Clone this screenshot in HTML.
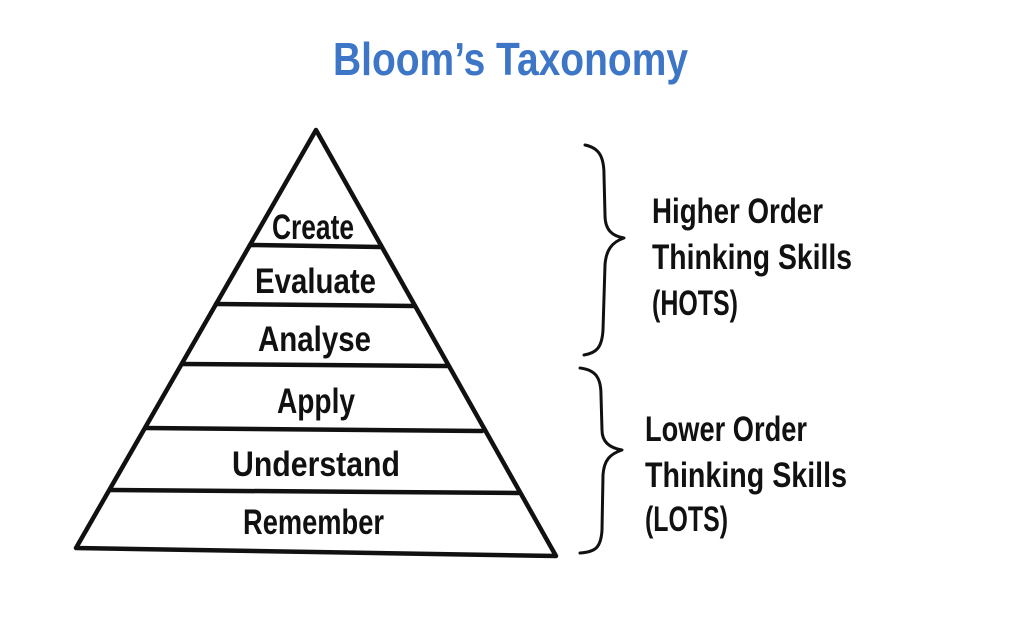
<!DOCTYPE html>
<html><head><style>
html,body{margin:0;padding:0;background:#fff;}
svg{display:block;}
.h{font-family:"Liberation Sans Narrow","Liberation Sans",sans-serif;font-weight:bold;fill:#111;font-size:35px;}
</style></head><body>
<svg width="1027" height="630" viewBox="0 0 1027 630" xmlns="http://www.w3.org/2000/svg">
<text x="333" y="75" textLength="355" lengthAdjust="spacingAndGlyphs" font-family="Liberation Sans,sans-serif" font-weight="bold" font-size="46" fill="#3d76c6">Bloom’s Taxonomy</text>
<g stroke="#111" stroke-width="4.5" fill="none" stroke-linecap="round" stroke-linejoin="round">
<path d="M316 130 L76 548 L556 556 Z"/>
<path d="M250 245 L381 247"/>
<path d="M216 304 L414 306"/>
<path d="M182 364 L447 366"/>
<path d="M145 428 L482 431"/>
<path d="M110 490 L518 493"/>
<g stroke-width="3">
<path d="M585 145 C600 148 604 158 604 175 L605 215 C605 230 612 236 624 238 C612 242 606 250 605 265 L603 330 C602 348 596 353 584 355"/>
<path d="M580 368 C596 370 601 378 601 395 L602 430 C602 442 610 448 622 450 C610 454 604 460 603 475 L602 530 C601 548 595 552 580 553"/>
</g>
</g>
<g class="h">
<text x="272" y="239" textLength="82" lengthAdjust="spacingAndGlyphs">Create</text>
<text x="255" y="293" textLength="121" lengthAdjust="spacingAndGlyphs">Evaluate</text>
<text x="258" y="351" textLength="113" lengthAdjust="spacingAndGlyphs">Analyse</text>
<text x="277" y="413" textLength="78" lengthAdjust="spacingAndGlyphs">Apply</text>
<text x="232" y="476" textLength="168" lengthAdjust="spacingAndGlyphs">Understand</text>
<text x="243" y="534" textLength="141" lengthAdjust="spacingAndGlyphs">Remember</text>
<text x="652" y="223" textLength="171" lengthAdjust="spacingAndGlyphs">Higher Order</text>
<text x="652" y="269" textLength="200" lengthAdjust="spacingAndGlyphs">Thinking Skills</text>
<text x="652" y="315" textLength="86" lengthAdjust="spacingAndGlyphs">(HOTS)</text>
<text x="645" y="441" textLength="162" lengthAdjust="spacingAndGlyphs">Lower Order</text>
<text x="645" y="487" textLength="202" lengthAdjust="spacingAndGlyphs">Thinking Skills</text>
<text x="645" y="531" textLength="83" lengthAdjust="spacingAndGlyphs">(LOTS)</text>
</g>
</svg>
</body></html>
